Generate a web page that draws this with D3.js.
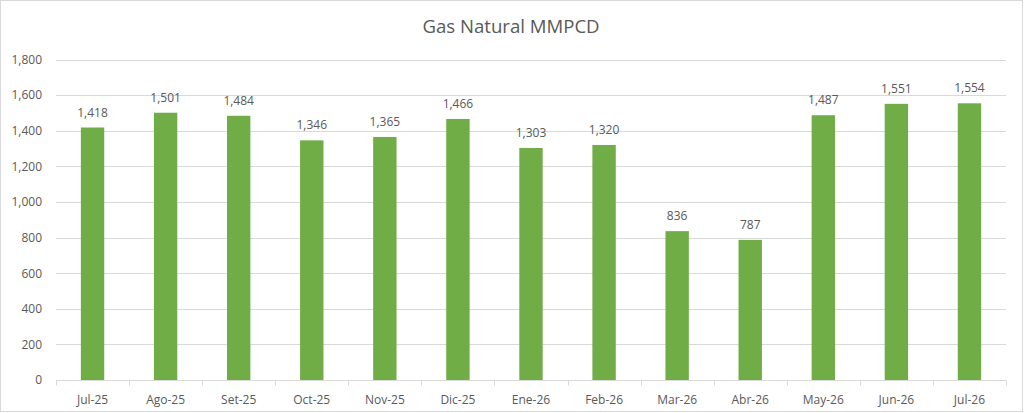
<!DOCTYPE html>
<html>
<head>
<meta charset="utf-8">
<script src="https://cdn.jsdelivr.net/npm/d3@7"></script>
<style>
  body { margin: 0; background: #fff; }
  svg text { font-family: "Open Sans", sans-serif; fill: #595959; }
</style>
</head>
<body>
<svg id="chart" width="1024" height="413"></svg>
<script>
// chart data
let months = ['Jul-25', 'Ago-25', 'Set-25', 'Oct-25', 'Nov-25', 'Dic-25', 'Ene-26',
              'Feb-26', 'Mar-26', 'Abr-26', 'May-26', 'Jun-26', 'Jul-26']
let gasValues = [1418, 1501, 1484, 1346, 1365, 1466, 1303, 1320, 836, 787, 1487, 1551, 1554]
let yTicks = [0, 200, 400, 600, 800, 1000, 1200, 1400, 1600, 1800]

let svg = d3.select('#chart')
let fmt = d3.format(',')

let margin = { left: 56, right: 18, top: 59.5, bottom: 33 }
let width = 1024
let height = 413

// outer border
svg.append('rect')
    .attr('x', 0.5).attr('y', 0.5)
    .attr('width', 1022).attr('height', 411)
    .attr('fill', '#fff')
    .attr('stroke', '#d9d9d9')

let xScale = d3.scaleBand()
    .domain(months)
    .range([margin.left, width - margin.right])
    .paddingInner(0.68)
    .paddingOuter(0.34)

let yScale = d3.scaleLinear()
    .domain([0, 1800])
    .range([height - margin.bottom, margin.top])

// gridlines
svg.append('g')
    .selectAll('line')
    .data(yTicks.slice(1))
    .enter()
    .append('line')
    .attr('x1', margin.left)
    .attr('x2', width - margin.right)
    .attr('y1', (d) => Math.round(yScale(d)) + 0.5)
    .attr('y2', (d) => Math.round(yScale(d)) + 0.5)
    .attr('stroke', '#d9d9d9')

// y axis labels
let yAxis = d3.axisLeft(yScale)
    .tickValues(yTicks)
    .tickFormat(fmt)
    .tickSize(0)
    .tickPadding(14)

let yG = svg.append('g')
    .attr('transform', 'translate(' + margin.left + ',0)')
    .call(yAxis)
yG.select('.domain').remove()
yG.selectAll('text')
    .style('font-size', '12px')
    .attr('fill', '#595959')

// bars
svg.append('g')
    .selectAll('rect')
    .data(gasValues)
    .enter()
    .append('rect')
    .attr('x', (d, i) => xScale(months[i]))
    .attr('y', (d) => yScale(d))
    .attr('width', xScale.bandwidth())
    .attr('height', (d) => yScale(0) - yScale(d))
    .attr('fill', '#70ad47')

// data labels
svg.append('g')
    .selectAll('text')
    .data(gasValues)
    .enter()
    .append('text')
    .attr('x', (d, i) => xScale(months[i]) + xScale.bandwidth() / 2)
    .attr('y', (d) => yScale(d) - 11)
    .attr('text-anchor', 'middle')
    .style('font-size', '12px')
    .text((d) => fmt(d))

// x axis line and tick marks between categories
let step = xScale.step()
let zeroY = Math.round(yScale(0)) + 0.5
let bottom = svg.append('g')
bottom.append('line')
    .attr('x1', margin.left)
    .attr('x2', width - margin.right)
    .attr('y1', zeroY)
    .attr('y2', zeroY)
    .attr('stroke', '#d9d9d9')
bottom.selectAll('.tick-mark')
    .data(d3.range(months.length + 1))
    .enter()
    .append('line')
    .attr('class', 'tick-mark')
    .attr('x1', (i) => Math.round(margin.left + i * step) + 0.5)
    .attr('x2', (i) => Math.round(margin.left + i * step) + 0.5)
    .attr('y1', zeroY)
    .attr('y2', zeroY + 5)
    .attr('stroke', '#d9d9d9')

bottom.selectAll('.month')
    .data(months)
    .enter()
    .append('text')
    .attr('class', 'month')
    .attr('x', (m) => xScale(m) + xScale.bandwidth() / 2)
    .attr('y', 404)
    .attr('text-anchor', 'middle')
    .style('font-size', '12px')
    .text((m) => m)

// title
svg.append('text')
    .attr('x', 511)
    .attr('y', 33)
    .attr('text-anchor', 'middle')
    .style('font-size', '18.6px')
    .text('Gas Natural MMPCD')
</script>
</body>
</html>
